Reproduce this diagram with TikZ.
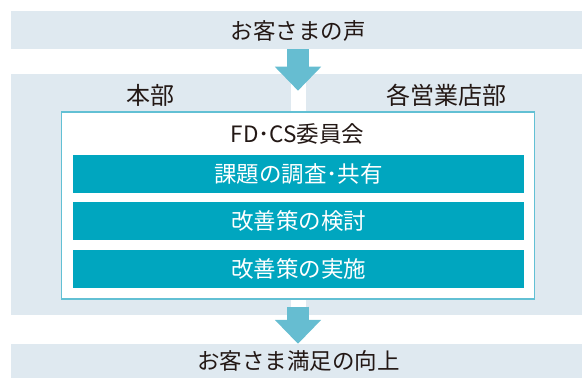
\documentclass[tikz,border=0pt]{standalone}
\usepackage{fontspec}
\setmainfont{Noto Sans CJK JP}
\usetikzlibrary{arrows.meta}
\definecolor{bandc}{HTML}{DFE9F0}
\definecolor{arrowc}{HTML}{66BDD1}
\definecolor{barc}{HTML}{00A6BF}
\definecolor{boxc}{HTML}{62C0D4}
\definecolor{txtc}{HTML}{231815}
\tikzset{
  band/.style={fill=bandc, draw=none, inner sep=0pt},
  btext/.style={text=txtc, inner sep=0pt, font=\fontsize{22.5}{24}\selectfont},
  stepbar/.style={fill=barc, draw=none, inner sep=0pt, minimum width=451pt, minimum height=38pt, text=white, font=\fontsize{22.5}{24}\selectfont},
  label/.style={text=txtc, inner sep=0pt, font=\fontsize{24}{26}\selectfont},
  bigarrow/.style={draw=arrowc, line width=22pt, -{Triangle[width=45pt,length=24pt]}},
}
\begin{document}
\begin{tikzpicture}[x=1pt,y=-1pt]
\useasboundingbox (0,0) rectangle (582,378);
% bands
\node[band, minimum width=571pt, minimum height=38pt] (voice) at (296.5,30) {};
\node[btext] (voicet) at (298,31) {お客さまの声};
\node[band, minimum width=571pt, minimum height=241pt] (mid) at (296.5,194.5) {};
\node[band, minimum width=571pt, minimum height=34pt] (sat) at (296.5,361) {};
\node[btext] (satt) at (298.5,361) {お客さま満足の向上};
% white strip
\fill[white] (291,74) rectangle (305.7,315);
% labels
\node[label] (hq) at (150.5,95) {本部};
\node[label] (br) at (446.7,95) {各営業店部};
% committee box
\node[draw=boxc, line width=1.5pt, fill=white, minimum width=473pt, minimum height=187pt, inner sep=0pt] (box) at (298.2,205.7) {};
\node[btext] (title) at (297.5,134) {FD･CS委員会};
% steps
\node[stepbar] (s1) at (298.5,174) {課題の調査･共有};
\node[stepbar] (s2) at (298.5,221) {改善策の検討};
\node[stepbar] (s3) at (298.5,269) {改善策の実施};
% arrows
\coordinate (a1s) at (298,49);
\coordinate (a1e) at (298,90.7);
\coordinate (a2s) at (298,306.7);
\coordinate (a2e) at (298,343.3);
\draw[bigarrow] (a1s |- voice.south) -- (a1e);
\draw[bigarrow] (a2s) -- (a2e |- sat.north);
\end{tikzpicture}
\end{document}
